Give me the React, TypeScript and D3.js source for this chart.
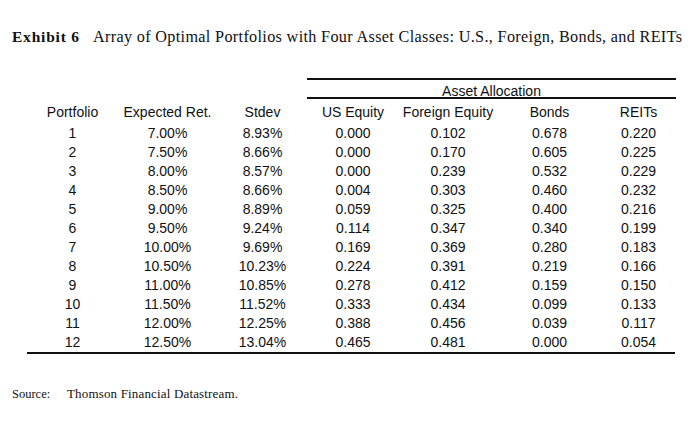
import React from "react";
import * as d3 from "d3";

const portfolios = ["1","2","3","4","5","6","7","8","9","10","11","12"];
const expectedRet = ["7.00%","7.50%","8.00%","8.50%","9.00%","9.50%","10.00%","10.50%","11.00%","11.50%","12.00%","12.50%"];
const stdev = ["8.93%","8.66%","8.57%","8.66%","8.89%","9.24%","9.69%","10.23%","10.85%","11.52%","12.25%","13.04%"];
const usEquity = ["0.000","0.000","0.000","0.004","0.059","0.114","0.169","0.224","0.278","0.333","0.388","0.465"];
const foreignEquity = ["0.102","0.170","0.239","0.303","0.325","0.347","0.369","0.391","0.412","0.434","0.456","0.481"];
const bonds = ["0.678","0.605","0.532","0.460","0.400","0.340","0.280","0.219","0.159","0.099","0.039","0.000"];
const reits = ["0.220","0.225","0.229","0.232","0.216","0.199","0.183","0.166","0.150","0.133","0.117","0.054"];
const headers = ["Portfolio","Expected Ret.","Stdev","US Equity","Foreign Equity","Bonds","REITs"];
const groupLabel = "Asset Allocation";
const titleBold = "Exhibit 6";
const titleText = "Array of Optimal Portfolios with Four Asset Classes: U.S., Foreign, Bonds, and REITs";
const sourceLabel = "Source:";
const sourceText = "Thomson Financial Datastream.";

const columns = [portfolios, expectedRet, stdev, usEquity, foreignEquity, bonds, reits];

export default function App() {
  const W = 700, H = 434;
  const colX = d3.scaleOrdinal<string, number>()
    .domain(headers)
    .range([72.5, 167.5, 262.5, 353, 448, 549.5, 638.5]);
  const rowY = d3.scalePoint<string>()
    .domain(portfolios)
    .range([137.5, 346.5]);
  const sans = "'Liberation Sans', Arial, sans-serif";
  const serif = "'Liberation Serif', 'DejaVu Serif', serif";
  const ink = "#111";
  return (
    <svg width={W} height={H} style={{ position: "absolute", left: 0, top: 0, background: "#fff" }}>
      <rect x={0} y={0} width={W} height={H} fill="#fff" />
      <text x={12} y={42} fontFamily={serif} fontSize={15.5} fontWeight="bold" fill={ink}
        textLength={67} lengthAdjust="spacing">{titleBold}</text>
      <text x={93} y={42} fontFamily={serif} fontSize={16.2} fill={ink}
        textLength={589} lengthAdjust="spacing">{titleText}</text>

      <line x1={307} x2={676} y1={79} y2={79} stroke={ink} strokeWidth={2} />
      <text x={491.5} y={96} textAnchor="middle" fontFamily={sans} fontSize={14} fill={ink}>{groupLabel}</text>
      <line x1={307} x2={676} y1={98} y2={98} stroke={ink} strokeWidth={2} />

      {headers.map((h) => (
        <text key={h} x={colX(h)} y={117} textAnchor="middle" fontFamily={sans} fontSize={14} fill={ink}>{h}</text>
      ))}
      {columns.map((col, ci) =>
        col.map((v, ri) => (
          <text key={ci + "-" + ri} x={colX(headers[ci])} y={rowY(portfolios[ri])} textAnchor="middle"
            fontFamily={sans} fontSize={14} fill={ink}>{v}</text>
        ))
      )}
      <line x1={27} x2={675} y1={353} y2={353} stroke={ink} strokeWidth={2} />

      <text x={12} y={398} fontFamily={serif} fontSize={12.5} fill={ink}>{sourceLabel}</text>
      <text x={67} y={398} fontFamily={serif} fontSize={13} fill={ink}
        textLength={171} lengthAdjust="spacing">{sourceText}</text>
    </svg>
  );
}
